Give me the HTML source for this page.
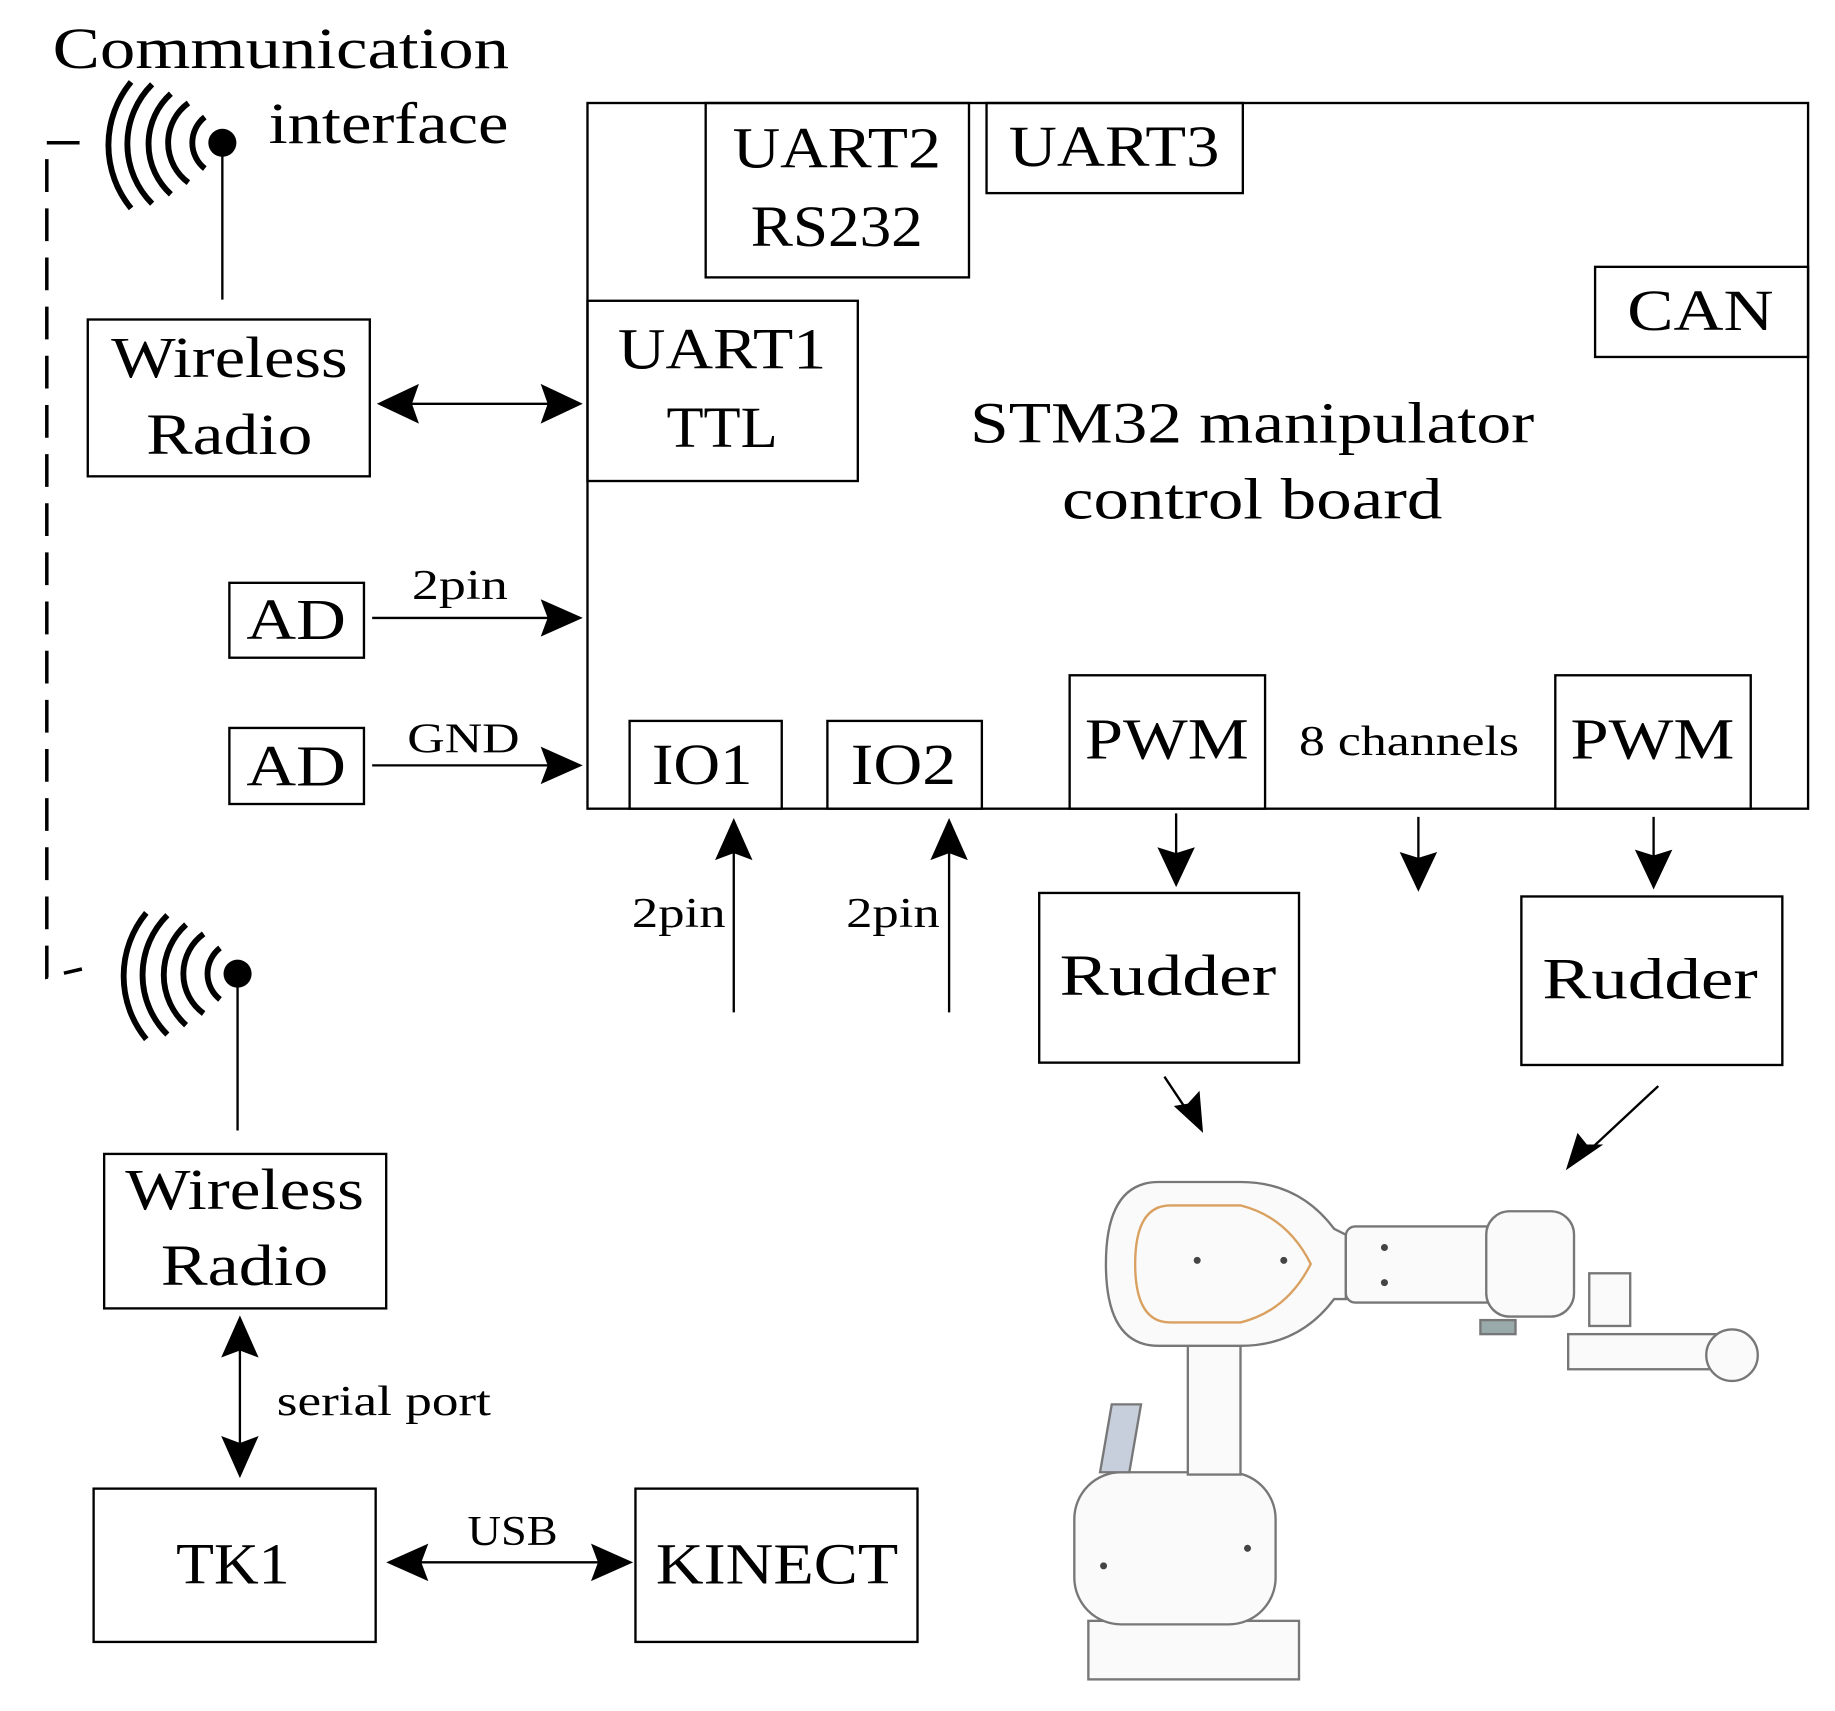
<!DOCTYPE html>
<html><head><meta charset="utf-8"><style>
html,body{margin:0;padding:0;background:#fff;}
svg{display:block;}
text{font-family:"Liberation Serif",serif;fill:#000;}
</style></head><body>
<svg width="1835" height="1711" viewBox="0 0 1568 1462" xmlns="http://www.w3.org/2000/svg">
<g fill="none" stroke="#000" stroke-width="2">
<path d="M68,122 H40 V835 L70,828" stroke-dasharray="28,14" stroke-width="3"/>
<line x1="190" y1="122" x2="190" y2="256"/>
<line x1="203" y1="832" x2="203" y2="966"/>
<rect x="75" y="273" width="241" height="134"/>
<rect x="502" y="88" width="1043" height="603"/>
<rect x="603" y="88" width="225" height="149"/>
<rect x="843" y="88" width="219" height="77"/>
<rect x="1363" y="228" width="182" height="77"/>
<rect x="502" y="257" width="231" height="154"/>
<rect x="196" y="498" width="115" height="64"/>
<rect x="196" y="622" width="115" height="65"/>
<rect x="538" y="616" width="130" height="75"/>
<rect x="707" y="616" width="132" height="75"/>
<rect x="914" y="577" width="167" height="114"/>
<rect x="1329" y="577" width="167" height="114"/>
<rect x="888" y="763" width="222" height="145"/>
<rect x="1300" y="766" width="223" height="144"/>
<rect x="89" y="986" width="241" height="132"/>
<rect x="80" y="1272" width="241" height="131"/>
<rect x="543" y="1272" width="241" height="131"/>
<line x1="345" y1="345" x2="475" y2="345"/>
<line x1="318" y1="528" x2="470" y2="528"/>
<line x1="318" y1="654" x2="470" y2="654"/>
<line x1="627" y1="865" x2="627" y2="725"/>
<line x1="811" y1="865" x2="811" y2="725"/>
<line x1="1005" y1="695" x2="1005" y2="730"/>
<line x1="1212" y1="698" x2="1212" y2="735"/>
<line x1="1413" y1="698" x2="1413" y2="735"/>
<line x1="995" y1="920" x2="1015" y2="950"/>
<line x1="1417" y1="928" x2="1358" y2="983"/>
<line x1="205" y1="1148" x2="205" y2="1240"/>
<line x1="355" y1="1335" x2="515" y2="1335"/>
</g>
<g fill="#000">
<circle cx="190" cy="122" r="12"/>
<circle cx="203" cy="832" r="12"/>
<polygon points="322,345 358,328 352,345 358,362"/>
<polygon points="498,345 462,328 468,345 462,362"/>
<polygon points="498,528 462,512 468,528 462,544"/>
<polygon points="498,654 462,638 468,654 462,670"/>
<polygon points="627,699 611,735 627,729 643,735"/>
<polygon points="811,699 795,735 811,729 827,735"/>
<polygon points="1005,758 989,724 1005,729 1021,724"/>
<polygon points="1212,762 1196,728 1212,733 1228,728"/>
<polygon points="1413,760 1397,726 1413,731 1429,726"/>
<polygon points="1028,968 1003,945 1015,943 1025,932"/>
<polygon points="1338,1000 1348,968 1356,978 1370,978"/>
<polygon points="205,1124 189,1160 205,1154 221,1160"/>
<polygon points="205,1263 189,1227 205,1233 221,1227"/>
<polygon points="330,1335 366,1319 360,1335 366,1351"/>
<polygon points="541,1335 505,1319 511,1335 505,1351"/>
</g>
<g fill="none" stroke="#000" stroke-width="5">
<path d="M175,100 A28,28 0 0 0 175,144"/>
<path d="M161,88 A42,42 0 0 0 161,156"/>
<path d="M146,80 A58,58 0 0 0 146,166"/>
<path d="M130,72 A72,72 0 0 0 130,174"/>
<path d="M112,70 A85,85 0 0 0 112,178"/>
<path d="M188,810 A28,28 0 0 0 188,854"/>
<path d="M174,798 A42,42 0 0 0 174,866"/>
<path d="M159,790 A58,58 0 0 0 159,876"/>
<path d="M143,782 A72,72 0 0 0 143,884"/>
<path d="M125,780 A85,85 0 0 0 125,888"/>
</g>
<g font-size="50" text-anchor="middle" lengthAdjust="spacingAndGlyphs">
<text x="240" y="58" textLength="390" lengthAdjust="spacingAndGlyphs">Communication</text>
<text x="332" y="122" textLength="205" lengthAdjust="spacingAndGlyphs">interface</text>
<text x="196" y="322" textLength="202" lengthAdjust="spacingAndGlyphs">Wireless</text>
<text x="196" y="388" textLength="142" lengthAdjust="spacingAndGlyphs">Radio</text>
<text x="715" y="143" textLength="178" lengthAdjust="spacingAndGlyphs">UART2</text>
<text x="715" y="210" textLength="147" lengthAdjust="spacingAndGlyphs">RS232</text>
<text x="952" y="142" textLength="180" lengthAdjust="spacingAndGlyphs">UART3</text>
<text x="1453" y="282" textLength="125" lengthAdjust="spacingAndGlyphs">CAN</text>
<text x="617" y="315" textLength="178" lengthAdjust="spacingAndGlyphs">UART1</text>
<text x="617" y="382" textLength="95" lengthAdjust="spacingAndGlyphs">TTL</text>
<text x="1070" y="378" textLength="482" lengthAdjust="spacingAndGlyphs">STM32 manipulator</text>
<text x="1070" y="443" textLength="325" lengthAdjust="spacingAndGlyphs">control board</text>
<text x="253" y="546" textLength="85" lengthAdjust="spacingAndGlyphs">AD</text>
<text x="253" y="671" textLength="85" lengthAdjust="spacingAndGlyphs">AD</text>
<text x="600" y="670" textLength="86" lengthAdjust="spacingAndGlyphs">IO1</text>
<text x="772" y="670" textLength="90" lengthAdjust="spacingAndGlyphs">IO2</text>
<text x="997" y="648" textLength="140" lengthAdjust="spacingAndGlyphs">PWM</text>
<text x="1412" y="648" textLength="140" lengthAdjust="spacingAndGlyphs">PWM</text>
<text x="998" y="850" textLength="185" lengthAdjust="spacingAndGlyphs">Rudder</text>
<text x="1410" y="853" textLength="184" lengthAdjust="spacingAndGlyphs">Rudder</text>
<text x="209" y="1033" textLength="204" lengthAdjust="spacingAndGlyphs">Wireless</text>
<text x="209" y="1098" textLength="143" lengthAdjust="spacingAndGlyphs">Radio</text>
<text x="199" y="1353" textLength="97" lengthAdjust="spacingAndGlyphs">TK1</text>
<text x="664" y="1353" textLength="207" lengthAdjust="spacingAndGlyphs">KINECT</text>
</g>
<g font-size="36" text-anchor="middle">
<text x="393" y="512" textLength="82" lengthAdjust="spacingAndGlyphs">2pin</text>
<text x="396" y="643" textLength="96" lengthAdjust="spacingAndGlyphs">GND</text>
<text x="1204" y="645" textLength="188" lengthAdjust="spacingAndGlyphs">8 channels</text>
<text x="580" y="792" textLength="80" lengthAdjust="spacingAndGlyphs">2pin</text>
<text x="763" y="792" textLength="80" lengthAdjust="spacingAndGlyphs">2pin</text>
<text x="328" y="1209" textLength="183" lengthAdjust="spacingAndGlyphs">serial port</text>
<text x="438" y="1320" textLength="77" lengthAdjust="spacingAndGlyphs">USB</text>
</g>
<g fill="#fafafa" stroke="#777" stroke-width="2">
<rect x="930" y="1385" width="180" height="50"/>
<rect x="918" y="1258" width="172" height="130" rx="40"/>
<rect x="1015" y="1140" width="45" height="120"/>
<path d="M950,1200 L940,1258 L965,1258 L975,1200 Z" fill="#c8cfdc"/>
<path d="M990,1010 L1060,1010 Q1110,1010 1140,1050 L1150,1055 L1150,1110 L1140,1110 Q1110,1150 1060,1150 L990,1150 Q945,1150 945,1080 Q945,1010 990,1010 Z"/>
<path d="M1000,1030 L1060,1030 Q1100,1040 1120,1080 Q1100,1120 1060,1130 L1000,1130 Q970,1130 970,1080 Q970,1030 1000,1030 Z" stroke="#d9a060"/>
<rect x="1150" y="1048" width="170" height="65" rx="8"/>
<rect x="1270" y="1035" width="75" height="90" rx="20"/>
<rect x="1358" y="1088" width="35" height="45"/>
<rect x="1265" y="1128" width="30" height="12" fill="#9aa"/>
<rect x="1340" y="1140" width="130" height="30"/>
<circle cx="1480" cy="1158" r="22"/>
</g>
<g fill="#444">
<circle cx="1023" cy="1077" r="3"/><circle cx="1097" cy="1077" r="3"/>
<circle cx="943" cy="1338" r="3"/><circle cx="1066" cy="1323" r="3"/>
<circle cx="1183" cy="1066" r="3"/><circle cx="1183" cy="1096" r="3"/>
</g>
</svg>
</body></html>
